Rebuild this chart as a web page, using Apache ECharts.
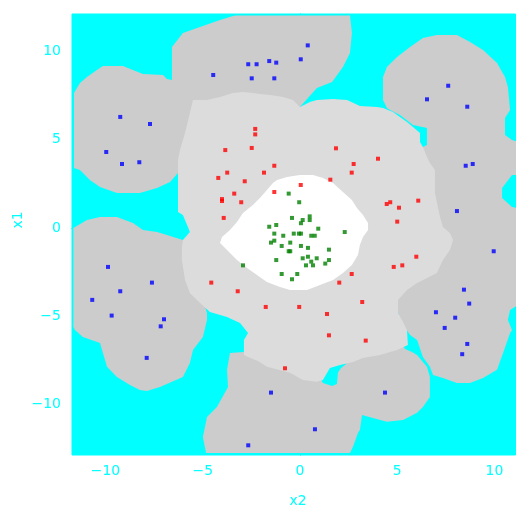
<!DOCTYPE html>
<html>
<head>
<meta charset="utf-8">
<script src="https://cdn.jsdelivr.net/npm/echarts@6/dist/echarts.min.js"></script>
<style>html,body{margin:0;padding:0;background:#fff;}#chart{width:518px;height:506px;}</style>
</head>
<body>
<div id="chart"></div>
<script>
// ---- data (x = x2, y = x1) ----
const bluePts = [[-9.24,6.30],[-7.71,5.90],[-9.96,4.31],[-9.15,3.63],[-8.26,3.73],
  [-4.46,8.68],[-2.66,9.29],[-2.23,9.29],[-2.48,8.49],[-1.58,9.47],[-1.22,9.38],[0.04,9.57],[0.40,10.36],[-1.32,8.49],
  [7.62,8.07],[6.53,7.30],[8.60,6.88],[8.52,3.53],[8.88,3.63],[8.07,0.96],[9.96,-1.32],
  [8.43,-3.50],[8.70,-4.29],[6.99,-4.78],[7.98,-5.09],[7.44,-5.67],[8.60,-6.58],[8.34,-7.16],
  [-1.49,-9.34],[4.37,-9.34],[0.77,-11.42],[-2.66,-12.33],
  [-9.87,-2.21],[-7.61,-3.10],[-9.24,-3.59],[-10.68,-4.08],[-9.68,-4.97],[-6.99,-5.18],[-7.16,-5.58],[-7.88,-7.37]];
const redPts = [[-2.30,5.62],[-2.30,5.31],[-3.84,4.42],[-2.48,4.54],[1.85,4.52],[-1.32,3.53],[2.76,3.63],[4.01,3.93],
  [-4.20,2.84],[-3.74,3.14],[-2.84,2.65],[-3.38,1.95],[-4.01,1.64],[-4.01,1.53],[-3.02,1.46],[-3.92,0.57],
  [-4.56,-3.10],[-3.20,-3.59],[-1.85,3.14],[2.66,3.14],[1.56,2.74],[0.04,2.44],[-1.32,2.04],
  [4.46,1.36],[4.64,1.46],[5.09,1.15],[6.08,1.55],[5.00,0.36],[5.98,-1.63],[4.82,-2.21],[5.26,-2.12],
  [2.66,-2.61],[2.02,-3.10],[3.20,-4.20],[-1.76,-4.48],[-0.04,-4.48],[1.39,-4.88],[1.49,-6.09],[3.38,-6.39],[-0.77,-7.96]];
const greenPts = [[-2.93,-2.12],[-0.58,1.95],[-0.04,1.46],[-0.41,0.57],[0.50,0.66],[0.50,0.45],[0.14,0.45],[0.05,0.27],
  [-1.58,0.07],[-1.22,0.17],[0.94,-0.04],[2.30,-0.23],[-1.32,-0.32],[-0.86,-0.44],[-0.32,-0.32],[-0.05,-0.32],[0.05,-0.32],
  [0.58,-0.44],[0.76,-0.44],[-1.32,-0.72],[-1.49,-0.83],[-0.50,-0.83],[-0.94,-1.02],[0.05,-1.02],[0.41,-1.13],
  [-0.58,-1.32],[-0.50,-1.32],[1.49,-1.23],[-1.22,-1.82],[0.14,-1.72],[0.41,-1.63],[0.86,-1.72],[0.58,-1.91],
  [0.31,-2.12],[0.67,-2.12],[1.30,-2.02],[1.49,-1.82],[-0.94,-2.61],[-0.14,-2.61],[-0.41,-2.91]];

// decision regions (outlines, data units)
const regionBlueTop = [[-11.62,7.66],[-11.31,8.22],[-10.95,8.56],[-10.44,8.96],[-10.13,9.19],[-9.10,9.19],[-8.59,8.96],
  [-8.07,8.74],[-7.04,8.68],[-6.84,8.45],[-6.58,8.40],[-6.58,10.27],[-6.02,11.06],[-5.14,11.40],[-4.11,11.80],[-3.44,12.03],
  [-3.29,12.05],[2.57,12.05],[2.67,11.06],[2.57,9.93],[2.21,9.13],[1.65,8.28],[0.87,7.94],[0.41,7.37],[0,6.86],
  [-0.51,5.56],[-5.14,5.56],[-5.91,3.01],[-6.27,3.12],[-6.68,2.61],[-7.35,2.27],[-8.23,1.99],[-9.41,1.99],[-10.28,2.33],
  [-10.80,2.72],[-11.31,3.29],[-11.62,3.40]];
const regionBlueRight = [[4.27,8.56],[4.47,9.13],[4.99,9.70],[5.66,10.27],[6.32,10.78],[7.04,10.95],[8.07,10.95],[8.74,10.55],
  [9.41,10.10],[10.13,9.36],[10.54,8.56],[10.69,8.00],[10.80,6.69],[10.54,6.24],[10.54,5.28],[10.90,4.99],[11.2,4.88],
  [11.2,3.01],[10.90,3.01],[10.39,2.27],[10.39,1.70],[10.90,1.19],[11.2,1.13],[11.2,-4.37],[10.80,-4.65],[10.69,-5.22],
  [10.90,-5.79],[10.80,-5.96],[10.44,-7.09],[10.13,-8.05],[9.41,-8.51],[8.74,-8.79],[8.07,-8.79],[7.35,-8.51],[6.84,-8.34],
  [6.68,-7.88],[6.32,-7.32],[6.02,-6.35],[5.66,-6.07],[5.14,-5.22],[4.88,-4.08],[6.17,-2.38],[6.43,1.59],[6.07,3.57],
  [6.32,4.59],[6.53,4.71],[6.53,5.67],[5.81,5.84],[5.14,6.41],[4.63,6.69],[4.47,6.81],[4.27,7.26]];
const regionBlueBottom = [[-4.83,-12.76],[-4.99,-11.86],[-4.78,-10.72],[-4.27,-10.15],[-3.70,-9.02],[-3.75,-8.05],[-3.60,-7.09],
  [-2.88,-7.03],[-1.03,-7.77],[0.93,-8.34],[1.18,-8.79],[1.65,-8.96],[1.90,-8.85],[1.95,-8.22],[2.11,-7.94],[2.31,-7.77],
  [3.08,-6.92],[5.14,-6.35],[5.40,-6.86],[5.76,-7.03],[6.02,-7.20],[6.53,-7.88],[6.68,-8.45],[6.68,-9.59],[6.32,-10.15],
  [6.02,-10.49],[5.30,-10.89],[4.47,-11.00],[3.75,-10.78],[3.19,-10.61],[3.08,-11.46],[2.98,-11.63],[2.72,-12.42],[2.57,-12.76]];
const regionBlueLeft = [[-11.65,0],[-10.95,0.45],[-10.28,0.62],[-9.41,0.62],[-8.59,0.28],[-8.07,-0.11],[-7.35,-0.23],
  [-6.84,-0.40],[-6.02,-0.68],[-5.40,-1.82],[-4.99,-4.08],[-4.78,-4.82],[-4.78,-5.22],[-4.99,-6.18],[-5.50,-6.92],
  [-5.66,-7.66],[-6.02,-8.45],[-7.20,-9.02],[-7.87,-9.25],[-8.23,-9.19],[-8.74,-8.91],[-9.41,-8.45],[-9.92,-7.88],
  [-10.13,-7.09],[-10.28,-6.52],[-11.16,-6.18],[-11.57,-5.79],[-11.65,-5.62]];
const regionRed = [[-5.50,7.26],[-4.78,7.26],[-4.11,7.43],[-3.44,7.66],[-2.93,7.71],[-2.42,7.66],[-2.06,7.60],[-1.54,7.54],
  [-0.87,7.43],[-0.36,7.26],[0,6.86],[0.51,7.15],[0.87,7.26],[1.70,7.32],[2.42,7.26],[3.08,6.92],[3.96,6.86],[4.27,6.81],
  [4.78,6.58],[5.14,6.30],[5.50,6.01],[5.81,5.73],[6.17,5.39],[6.17,4.88],[6.32,4.59],[6.53,4.03],[6.68,3.69],[6.94,3.29],
  [6.94,1.99],[7.20,0.62],[7.35,0.06],[7.71,-0.28],[7.87,-0.68],[7.71,-1.25],[7.35,-1.82],[7.04,-2.55],[6.02,-3.12],
  [5.50,-3.52],[5.04,-4.08],[5.04,-4.82],[5.30,-5.33],[5.50,-5.79],[5.55,-6.64],[4.99,-6.92],[4.11,-7.20],[3.24,-7.37],
  [2.72,-7.60],[2.06,-7.77],[1.54,-7.94],[1.18,-8.62],[0.87,-8.73],[0.15,-8.62],[-0.51,-8.22],[-1.70,-7.88],[-2.16,-7.54],
  [-2.67,-7.32],[-2.88,-7.20],[-2.88,-6.35],[-2.67,-5.96],[-3.08,-5.39],[-3.75,-5.05],[-4.63,-4.76],[-5.14,-4.25],
  [-5.66,-3.69],[-5.91,-2.95],[-6.07,-1.82],[-6.07,-1.08],[-6.02,-0.68],[-5.66,-0.23],[-5.76,0.06],[-6.02,0.74],
  [-6.27,0.91],[-6.27,3.86],[-6.17,4.42],[-5.91,5.39],[-5.66,6.52]];
const regionGreen = [[-1.18,2.72],[-0.67,2.89],[0,3.01],[0.67,3.01],[1.18,2.84],[1.70,2.55],[2.21,2.04],[2.67,1.59],
  [2.93,1.13],[3.24,0.74],[3.50,0.28],[3.50,-0.11],[3.24,-0.51],[3.08,-0.96],[2.98,-1.53],[2.67,-2.10],[2.21,-2.55],
  [1.70,-2.95],[1.03,-3.23],[0.36,-3.52],[-0.51,-3.52],[-1.03,-3.35],[-1.70,-3.06],[-2.21,-2.67],[-2.72,-2.27],
  [-3.24,-1.82],[-3.75,-1.25],[-4.11,-0.85],[-4.01,-0.51],[-3.60,-0.11],[-3.24,0.34],[-2.93,0.85],[-2.42,1.30],
  [-2.06,1.70],[-1.70,2.16],[-1.39,2.55]];

const xTicks = [-10, -5, 0, 5, 10];
const yTicks = [-10, -5, 0, 5, 10];
const xRange = [-11.72, 11.08];
const yRange = [-12.88, 12.14];

const CYAN = '#00ffff';
const fmt = v => (v < 0 ? '\u2212' + Math.abs(v) : String(v));
const FONT = 'DejaVu Sans';

function regionSeries(pts, color, z) {
  return {
    type: 'custom', clip: true, silent: true, z: z,
    data: [pts[0]],
    renderItem: function (params, api) {
      return { type: 'polygon', shape: { points: pts.map(p => api.coord(p)) }, style: { fill: color } };
    }
  };
}
function scatter(pts, color) {
  return { type: 'scatter', data: pts, symbol: 'rect', symbolSize: 4, itemStyle: { color: color }, z: 10, silent: true };
}
function axisCommon(ticks, showLabel, range) {
  return {
    type: 'value', min: range[0], max: range[1],
    splitLine: { show: false },
    axisLine: { show: true, lineStyle: { color: CYAN, width: 1 } },
    axisTick: { show: true, length: 5, inside: false, customValues: ticks, lineStyle: { color: CYAN, width: 1 } },
    axisLabel: { show: showLabel, customValues: ticks, formatter: fmt, color: CYAN, fontSize: 14, fontFamily: FONT }
  };
}

const chart = echarts.init(document.getElementById('chart'), null, { renderer: 'canvas' });
const xb = axisCommon(xTicks, true, xRange); xb.position = 'bottom'; xb.axisLabel.margin = 9;
const xt = axisCommon(xTicks, false, xRange); xt.position = 'top';
const yl = axisCommon(yTicks, true, yRange); yl.position = 'left'; yl.axisLabel.margin = 11;
const yr = axisCommon(yTicks, false, yRange); yr.position = 'right';

chart.setOption({
  animation: false,
  backgroundColor: '#ffffff',
  grid: { left: 72, right: 2.5, top: 14, bottom: 51, show: true, backgroundColor: CYAN, borderColor: CYAN, borderWidth: 1 },
  xAxis: [xb, xt],
  yAxis: [yl, yr],
  graphic: [
    { type: 'text', x: 298, y: 501, style: { text: 'x2', fill: CYAN, font: '14px ' + FONT, align: 'center', verticalAlign: 'middle' } },
    { type: 'text', x: 18, y: 220, rotation: Math.PI / 2, style: { text: 'x1', fill: CYAN, font: '14px ' + FONT, align: 'center', verticalAlign: 'middle' } }
  ],
  series: [
    regionSeries(regionBlueTop, '#cccccc', 1),
    regionSeries(regionBlueRight, '#cccccc', 1),
    regionSeries(regionBlueBottom, '#cccccc', 1),
    regionSeries(regionBlueLeft, '#cccccc', 1),
    regionSeries(regionRed, '#dcdcdc', 2),
    regionSeries(regionGreen, '#ffffff', 3),
    scatter(bluePts, '#0000ff'),
    scatter(redPts, '#ff0000'),
    scatter(greenPts, '#008000')
  ]
});
</script>
</body>
</html>
